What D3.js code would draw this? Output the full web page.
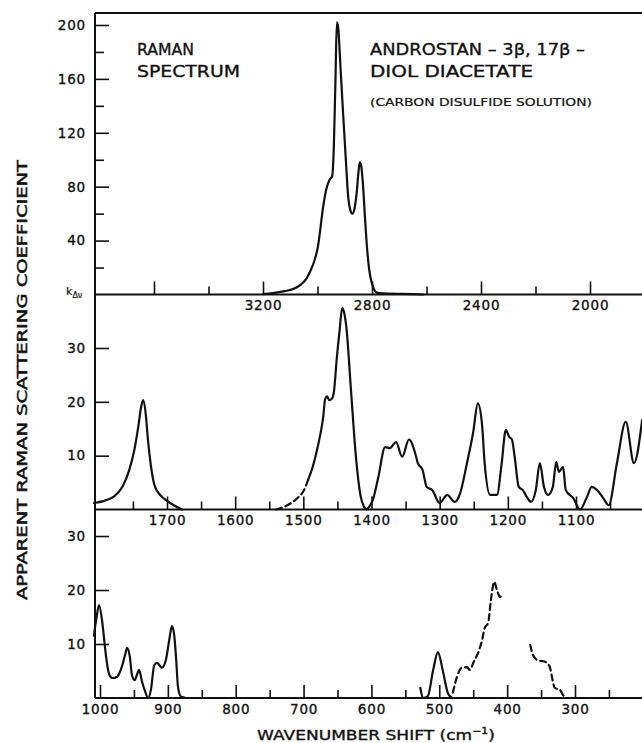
<!DOCTYPE html>
<html>
<head>
<meta charset="utf-8">
<script src="https://cdn.jsdelivr.net/npm/d3@7"></script>
<style>
  body { margin: 0; background: #fff; }
  svg { display: block; }
  text { font-family: "DejaVu Sans", "Liberation Sans", sans-serif; fill: #111; stroke: #111; stroke-width: 0.35px; }
</style>
</head>
<body>
<svg id="chart" width="642" height="743"></svg>
<script>
// ---- Raman spectrum of androstan-3β,17β-diol diacetate (CS2 solution) ----

// C–H stretching region (upper panel): wavenumber shift, k value
const chWavenumber = [3200, 3165, 3120, 3090, 3060, 3040, 3025, 3010, 2998, 2990, 2980, 2968, 2956, 2946,
  2940, 2934, 2929, 2924, 2916, 2906, 2896, 2888, 2880, 2872, 2864, 2856, 2850, 2845, 2840, 2834, 2826,
  2818, 2810, 2800, 2790, 2780, 2740, 2640, 2610];
const chIntensity = [0.3, 1, 2.5, 4, 7.5, 12, 18, 26, 36, 48, 64, 78, 85, 88,
  110, 160, 202, 198, 170, 134, 100, 74, 63, 60, 64, 76, 90, 98, 96, 84, 58,
  34, 18, 8, 3, 1.2, 0.6, 0.3, 0];

// Carbonyl band (middle panel)
const coWavenumber = [1807, 1790, 1778, 1765, 1755, 1748, 1742, 1738, 1735, 1731, 1728, 1724, 1719, 1712, 1705, 1698, 1690, 1678];
const coIntensity = [1.2, 1.7, 2.4, 4.3, 7.5, 11, 15.5, 19, 20.3, 17.5, 13, 8.5, 4.8, 3, 2.1, 1.4, 0.8, 0];

// Uncertain wing below the CH2 deformation band (dashed)
const wingWavenumber = [1540, 1530, 1518, 1509, 1499, 1493];
const wingIntensity = [0, 0.4, 1.2, 2.1, 3.6, 5.5];

// Fingerprint region 1493–1003 cm-1 (middle panel)
const fpWavenumber = [1493, 1486, 1480, 1475, 1471, 1468, 1465, 1462, 1458, 1455, 1451, 1447, 1443, 1440, 1437,
  1430, 1423, 1416, 1411, 1407, 1403, 1398, 1390, 1380, 1373, 1364, 1355, 1345, 1336, 1332, 1325, 1319,
  1311, 1300, 1289, 1278, 1270, 1260, 1251, 1244, 1238, 1234, 1226, 1216, 1209, 1203, 1198, 1194, 1190,
  1184, 1178, 1172, 1166, 1159, 1153, 1147, 1141, 1134, 1129, 1125, 1119, 1115, 1104, 1094, 1084, 1077,
  1069, 1060, 1052, 1040, 1027, 1015, 1003];
const fpIntensity = [5.5, 8, 11, 14, 17, 20.5, 21, 20.3, 20.6, 22, 28, 33, 37.4, 36.5, 34,
  22, 10, 2.5, 0.5, 0, 0.6, 1.8, 6, 11.6, 11.4, 12.5, 9.8, 13, 10.5, 8.6, 7.3, 4.2,
  3.6, 1.2, 2.7, 1.4, 3, 8.6, 14.2, 19.7, 16, 8.6, 2.7, 2.7, 8.6, 14.8, 13.5, 13, 9.8,
  4.2, 3.6, 2.3, 1.4, 3.6, 8.6, 4.2, 2.7, 4.2, 8.8, 7, 7.9, 3.6, 2.1, 0, 2.3, 4.2,
  3.6, 2.1, 0.8, 8.6, 16.3, 8.6, 16.6];

// Lower panel: 1009–873 cm-1
const lowAWavenumber = [1009, 1005, 1001.5, 997, 994, 991, 987, 982, 975, 968, 963, 960, 956, 953, 949, 945,
  942.5, 938, 934, 929, 925, 920, 916, 912, 909, 903, 898, 894, 891, 888, 885, 881, 873];
const lowAIntensity = [11.5, 15, 17.2, 14.4, 11, 7.6, 4.6, 3.7, 3.9, 5.7, 8, 9.3, 7.6, 4.3, 3.3, 4.5,
  5.2, 3, 1.4, 0, 1.5, 6.1, 6.5, 6, 5.6, 7, 10.7, 13.3, 12, 7.6, 2, 0.3, 0];

// Lower panel: band near 500 cm-1
const lowBWavenumber = [528, 524, 517, 509, 502, 495, 487, 481];
const lowBIntensity = [1.9, 0, 0.3, 5.2, 8.5, 5.2, 0.8, 0];

// Lower panel: uncertain traces (dashed)
const lowCWavenumber = [480, 474, 467, 459, 455, 450, 443, 437, 433, 428, 424, 419, 415, 410.5, 407.6];
const lowCIntensity = [1, 3.9, 5.6, 5.7, 5.2, 6.5, 8.3, 10.7, 13, 13.9, 18.1, 21.5, 20, 18.7, 19.4];
const lowDWavenumber = [366, 362, 355, 344, 337, 333, 330, 322, 318, 313];
const lowDIntensity = [9.8, 8, 7, 6.7, 5.7, 3.3, 1.9, 1.5, 0.6, 0];

// Tick values
const upperMajorX = [3600, 3200, 2800, 2400, 2000];
const upperMinorX = [3400, 3000, 2600, 2200];
const upperLabelX = ["3200", "2800", "2400", "2000"];
const upperMajorY = [40, 80, 120, 160, 200];
const upperMinorY = [20, 60, 100, 140, 180];
const middleMajorX = [1700, 1600, 1500, 1400, 1300, 1200, 1100];
const middleMinorX = [1750, 1650, 1550, 1450, 1350, 1250, 1150, 1050];
const lowerMajorX = [1000, 900, 800, 700, 600, 500, 400, 300];
const lowerMinorX = [950, 850, 750, 650, 550, 450, 350, 250];
const panelYTicks = [10, 20, 30];

// ---- layout ----
const svg = d3.select("#chart");
const W = 642;
const axisX = 95;
const topY = 13;
const ink = "#111";

// scales
const xUpper = d3.scaleLinear().domain([3600, 2000]).range([154, 590]);
const yUpper = d3.scaleLinear().domain([0, 200]).range([294.5, 25]);
const xMiddle = d3.scaleLinear().domain([1700, 1100]).range([167, 576]);
const yMiddle = d3.scaleLinear().domain([0, 30]).range([509.5, 348]);
const xLower = d3.scaleLinear().domain([1000, 300]).range([100, 575]);
const yLower = d3.scaleLinear().domain([0, 30]).range([698, 536]);

const tickFont = 13.5;

function styleTickText(sel) {
  sel.attr("font-size", tickFont).attr("letter-spacing", 0.8)
    .attr("fill", ink).attr("font-family", '"DejaVu Sans", sans-serif');
}

function xAxis(scale, y, major, minor, fmt) {
  const g = svg.append("g").attr("transform", `translate(0,${y})`);
  g.call(d3.axisBottom(scale).tickValues(major).tickSize(-13).tickPadding(6)
      .tickFormat(fmt));
  g.select(".domain").remove();
  const m = svg.append("g").attr("transform", `translate(0,${y})`);
  m.call(d3.axisBottom(scale).tickValues(minor).tickSize(-8).tickFormat(""));
  m.select(".domain").remove();
  [g, m].forEach(s => {
    s.selectAll("line").attr("stroke", ink).attr("stroke-width", 1.6);
    styleTickText(s.selectAll("text"));
  });
}

function yAxis(scale, major, minor) {
  const g = svg.append("g").attr("transform", `translate(${axisX},0)`);
  g.call(d3.axisLeft(scale).tickValues(major).tickSize(-14).tickPadding(9));
  g.select(".domain").remove();
  g.selectAll("line").attr("stroke", ink).attr("stroke-width", 1.6);
  styleTickText(g.selectAll("text"));
  if (minor) {
    const m = svg.append("g").attr("transform", `translate(${axisX},0)`);
    m.call(d3.axisLeft(scale).tickValues(minor).tickSize(-9).tickFormat(""));
    m.select(".domain").remove();
    m.selectAll("line").attr("stroke", ink).attr("stroke-width", 1.6);
  }
}

// frame: left axis, top border and three baselines
svg.append("line").attr("x1", axisX).attr("x2", axisX).attr("y1", topY).attr("y2", yLower(0))
  .attr("stroke", ink).attr("stroke-width", 2);
svg.append("line").attr("x1", axisX).attr("x2", W).attr("y1", topY).attr("y2", topY)
  .attr("stroke", ink).attr("stroke-width", 2);
[yUpper(0), yMiddle(0), yLower(0)].forEach(y => {
  svg.append("line").attr("x1", axisX).attr("x2", W).attr("y1", y).attr("y2", y)
    .attr("stroke", ink).attr("stroke-width", 2);
});

// axes
xAxis(xUpper, yUpper(0), upperMajorX, upperMinorX,
  d => upperLabelX.includes(String(d)) ? String(d) : "");
xAxis(xMiddle, yMiddle(0), middleMajorX, middleMinorX, d => String(d));
xAxis(xLower, yLower(0), lowerMajorX, lowerMinorX, d => String(d));
yAxis(yUpper, upperMajorY, upperMinorY);
yAxis(yMiddle, panelYTicks, null);
yAxis(yLower, panelYTicks, null);

// spectra
function trace(xs, ys, xScale, yScale, dashed) {
  const pts = xs.map((x, i) => [x, ys[i]]);
  const line = d3.line().x(d => xScale(d[0])).y(d => yScale(d[1])).curve(d3.curveMonotoneX);
  svg.append("path").datum(pts).attr("d", line)
    .attr("fill", "none").attr("stroke", ink).attr("stroke-width", 2.2)
    .attr("stroke-linejoin", "round").attr("stroke-linecap", "round")
    .attr("stroke-dasharray", dashed ? "6,4" : null);
}
trace(chWavenumber, chIntensity, xUpper, yUpper, false);
trace(coWavenumber, coIntensity, xMiddle, yMiddle, false);
trace(wingWavenumber, wingIntensity, xMiddle, yMiddle, true);
trace(fpWavenumber, fpIntensity, xMiddle, yMiddle, false);
trace(lowAWavenumber, lowAIntensity, xLower, yLower, false);
trace(lowBWavenumber, lowBIntensity, xLower, yLower, false);
trace(lowCWavenumber, lowCIntensity, xLower, yLower, true);
trace(lowDWavenumber, lowDIntensity, xLower, yLower, true);

// annotations
function label(txt, x, y, size, len) {
  const t = svg.append("text").attr("x", x).attr("y", y).attr("font-size", size).text(txt);
  if (len) t.attr("textLength", len).attr("lengthAdjust", "spacingAndGlyphs");
  return t;
}
label("RAMAN", 137, 55, 16, 57);
label("SPECTRUM", 137, 77, 16, 103);
label("ANDROSTAN – 3β, 17β –", 370, 55, 16, 215);
label("DIOL DIACETATE", 370, 77, 16, 163);
label("(CARBON DISULFIDE SOLUTION)", 370, 106, 10, 222).style("stroke-width", "0.2px");

// axis titles
svg.append("text")
  .attr("transform", "translate(27,380) rotate(-90)")
  .attr("text-anchor", "middle").attr("font-size", 14)
  .attr("textLength", 440).attr("lengthAdjust", "spacingAndGlyphs")
  .style("stroke-width", "0.5px")
  .text("APPARENT  RAMAN  SCATTERING  COEFFICIENT");

const k = svg.append("text").attr("x", 66).attr("y", 295).attr("font-size", 11)
  .style("stroke-width", "0.2px");
k.append("tspan").text("k");
k.append("tspan").attr("font-size", 8).attr("dy", 3).text("Δν");

const xt = svg.append("text").attr("x", 257).attr("y", 740).attr("font-size", 14)
  .attr("textLength", 238).attr("lengthAdjust", "spacingAndGlyphs");
xt.append("tspan").text("WAVENUMBER SHIFT (cm");
xt.append("tspan").attr("font-size", 9).attr("dy", -6).text("−1");
xt.append("tspan").attr("dy", 6).text(")");
</script>
</body>
</html>
